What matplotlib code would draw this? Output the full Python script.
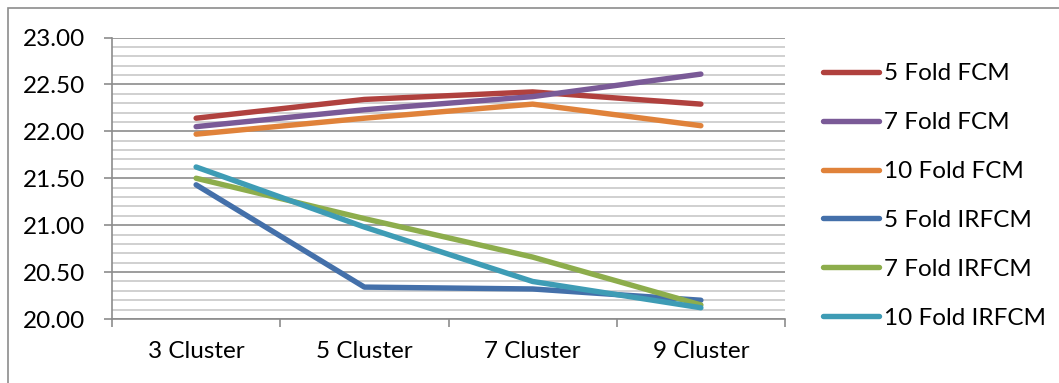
import matplotlib.pyplot as plt
import matplotlib.patches as mpatches
import numpy as np

clusters = ['3 Cluster', '5 Cluster', '7 Cluster', '9 Cluster']

fcm_5 = [22.14, 22.34, 22.42, 22.29]
fcm_7 = [22.05, 22.23, 22.37, 22.61]
fcm_10 = [21.97, 22.14, 22.29, 22.06]
irfcm_5 = [21.43, 20.34, 20.32, 20.20]
irfcm_7 = [21.50, 21.07, 20.66, 20.15]
irfcm_10 = [21.62, 20.98, 20.40, 20.12]

series = [
    ('5 Fold FCM', fcm_5, '#B0413E'),
    ('7 Fold FCM', fcm_7, '#7A5A97'),
    ('10 Fold FCM', fcm_10, '#E0823A'),
    ('5 Fold IRFCM', irfcm_5, '#4470AA'),
    ('7 Fold IRFCM', irfcm_7, '#8DAD4C'),
    ('10 Fold IRFCM', irfcm_10, '#3E9CB5'),
]

plt.rcParams['font.family'] = ['Lato', 'DejaVu Sans']
plt.rcParams['font.size'] = 17.5

fig = plt.figure(figsize=(10.59, 3.83), dpi=100)
# outer chart border, like an Excel chart frame
fig.patches.append(mpatches.Rectangle((8 / 1059, -0.05), 1.2, 1 - 7.5 / 383 + 0.05,
                                      transform=fig.transFigure, fill=False,
                                      edgecolor='#8c8c8c', linewidth=1.2))

ax = fig.add_axes([112 / 1059, 1 - 319 / 383, (785 - 112) / 1059, (319 - 37.5) / 383])

x = np.arange(len(clusters))
for label, vals, color in series:
    ax.plot(x, vals, color=color, linewidth=3.9, solid_capstyle='round', label=label)

ax.set_xlim(-0.5, len(clusters) - 0.5)
ax.set_ylim(20, 23)

# horizontal grid: major every 0.5, minor every 0.1
ax.set_yticks(np.arange(20, 23.01, 0.5))
ax.set_yticklabels(['%.2f' % v for v in np.arange(20, 23.01, 0.5)])
ax.set_yticks(np.arange(20, 23.01, 0.1), minor=True)
ax.grid(axis='y', which='major', color='#8c8c8c', linewidth=1.2)
ax.grid(axis='y', which='minor', color='#c8c8c8', linewidth=1.2)
ax.set_axisbelow(True)

# category boundaries carry the tick marks, labels sit between them
ax.set_xticks(np.arange(-0.5, len(clusters), 1.0))
ax.set_xticklabels([])
ax.set_xticks(x, minor=True)
ax.set_xticklabels(clusters, minor=True)
ax.tick_params(axis='x', which='major', length=6, width=1.2, color='#8c8c8c')
ax.tick_params(axis='x', which='minor', length=0, pad=16)
ax.tick_params(axis='y', which='major', length=6, width=1.2, color='#8c8c8c', pad=13)
ax.tick_params(axis='y', which='minor', length=0)

for s in ['top', 'right']:
    ax.spines[s].set_visible(False)
for s in ['left', 'bottom']:
    ax.spines[s].set_color('#8c8c8c')
    ax.spines[s].set_linewidth(1.2)

ax.legend(loc='center left', bbox_to_anchor=(823 / 1059, 1 - 196 / 383),
          bbox_transform=fig.transFigure, frameon=False, handlelength=2.3,
          handletextpad=0.2, labelspacing=1.15, borderpad=0, borderaxespad=0)

plt.savefig('out.png', dpi=100)
